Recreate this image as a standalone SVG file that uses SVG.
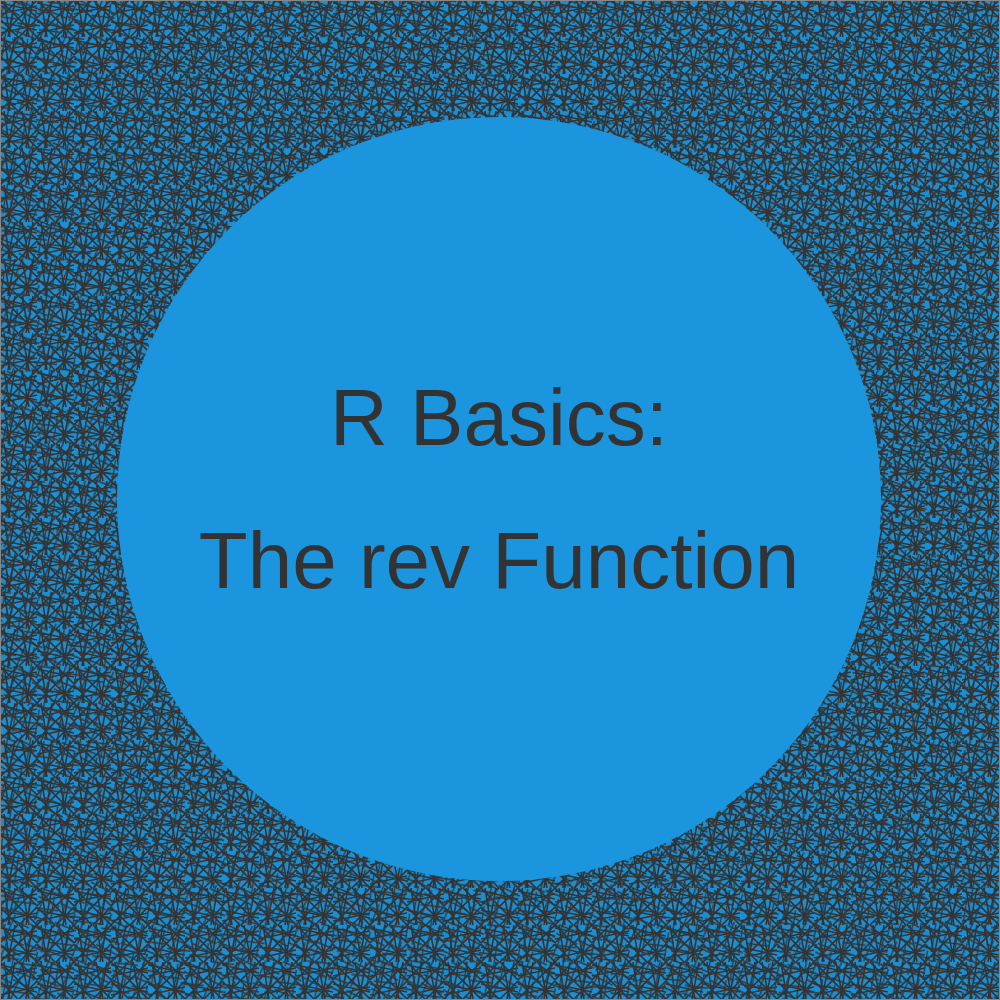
<svg xmlns="http://www.w3.org/2000/svg" width="1000" height="1000" viewBox="0 0 1000 1000">
<defs>
<pattern id="hatch" width="37" height="37" patternUnits="userSpaceOnUse">
<rect width="37" height="37" fill="#1b8fd2"/>
<g stroke="#333" stroke-width="1.6" fill="none">
<path d="M0 3 L37 11 M0 14 L37 6 M0 22 L37 30 M0 33 L37 25 M4 0 L10 37 M15 0 L8 37 M22 0 L29 37 M33 0 L26 37 M0 0 L37 37 M37 0 L0 37 M0 18 L18 0 M19 37 L37 19 M0 19 L18 37 M19 0 L37 18"/>
</g>
</pattern>
<pattern id="hatch2" width="23" height="29" patternUnits="userSpaceOnUse" patternTransform="rotate(17)">
<g stroke="#333" stroke-width="1.3" fill="none">
<path d="M0 5 L23 9 M0 17 L23 13 M0 25 L23 27 M6 0 L3 29 M15 0 L19 29"/>
</g>
</pattern>
<style>
.t{font-family:"Liberation Sans",Arial,sans-serif;font-size:80px;fill:#333;text-anchor:middle}
</style>
</defs>
<rect width="1000" height="1000" fill="url(#hatch)"/>
<rect width="1000" height="1000" fill="url(#hatch2)"/>
<rect x="0.5" y="0.5" width="999" height="999" fill="none" stroke="#888" stroke-width="1"/>
<g id="circle">
<circle cx="499" cy="499" r="382" fill="#1b95de"/>
</g>
<g id="title">
<text class="t" x="499" y="445">R Basics:</text>
<text class="t" x="499" y="588">The rev Function</text>
</g>
</svg>
